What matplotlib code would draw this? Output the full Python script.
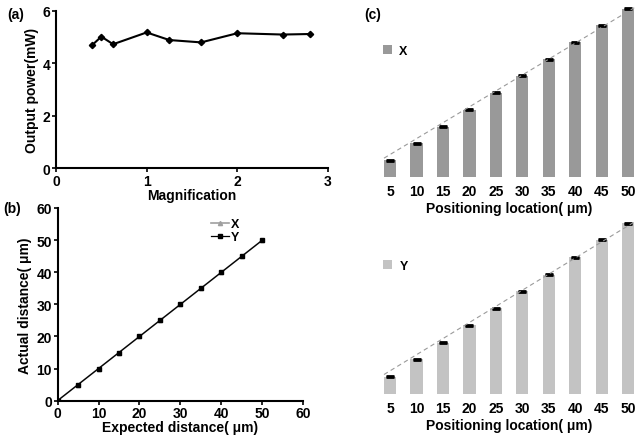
import numpy as np
import matplotlib
matplotlib.use("Agg")
import matplotlib.pyplot as plt

plt.rcParams["font.family"] = ["Liberation Sans", "DejaVu Sans"]
plt.rcParams["font.weight"] = "bold"
plt.rcParams["axes.labelweight"] = "bold"

# --------- data ---------
magnification = [0.4, 0.5, 0.63, 1.0, 1.25, 1.6, 2.0, 2.5, 2.8]
output_power = [4.70, 5.02, 4.73, 5.18, 4.89, 4.80, 5.15, 5.10, 5.12]

expected_dist = [0, 5, 10, 15, 20, 25, 30, 35, 40, 45, 50]
actual_x = [0, 5, 10, 15, 20, 25, 30, 35, 40, 45, 50]
actual_y = [0, 5, 10, 15, 20, 25, 30, 35, 40, 45, 50]

locations = ["5", "10", "15", "20", "25", "30", "35", "40", "45", "50"]
pos_x = [5.0, 10.1, 15.0, 20.0, 25.0, 30.1, 35.0, 40.1, 45.1, 50.0]
pos_y = [5.1, 10.2, 15.0, 20.1, 25.1, 30.0, 34.9, 40.0, 45.1, 50.0]
err_x = [0.15] * 10
err_y = [0.15] * 10

fig = plt.figure(figsize=(6.42, 4.39), dpi=100)

# --------- (a) output power ---------
ax_a = fig.add_axes([0.0872, 0.615, 0.4237, 0.3577])
ax_a.plot(magnification, output_power, color="black", lw=1.5,
          marker="D", ms=3.2, mfc="black")
ax_a.set_xlim(0, 3)
ax_a.set_ylim(0, 6)
ax_a.set_xticks([0, 1, 2, 3])
ax_a.set_yticks([0, 2, 4, 6])
ax_a.set_xlabel("Magnification", fontsize=10, labelpad=0)
ax_a.set_ylabel("Output power(mW)", fontsize=10, labelpad=3)

# --------- (b) actual vs expected ---------
ax_b = fig.add_axes([0.0896, 0.085, 0.383, 0.439])
ax_b.plot(expected_dist, actual_x, color="#a0a0a0", lw=1.2,
          marker="^", ms=3, label="X")
ax_b.plot(expected_dist, actual_y, color="black", lw=0.9,
          marker="s", ms=2.8, label="Y")
ax_b.set_xlim(0, 60)
ax_b.set_ylim(0, 60)
ax_b.set_xticks(range(0, 61, 10))
ax_b.set_yticks(range(0, 61, 10))
ax_b.set_xlabel("Expected distance( μm)", fontsize=10, labelpad=0)
ax_b.set_ylabel("Actual distance( μm)", fontsize=10, labelpad=3)
ax_b.legend(loc="upper left", bbox_to_anchor=(0.6, 0.98), frameon=False,
            fontsize=9, handlelength=1.4, handletextpad=0.2,
            labelspacing=0.1, borderpad=0)

for ax in (ax_a, ax_b):
    for side in ("top", "right"):
        ax.spines[side].set_visible(False)
    ax.spines["left"].set_linewidth(1.5)
    ax.spines["bottom"].set_linewidth(1.5)
    ax.tick_params(direction="out", length=3, width=1.2, labelsize=10, pad=1)
    for lab in ax.get_xticklabels() + ax.get_yticklabels():
        lab.set_fontweight("bold")

# --------- (c) positioning bars ---------
def bar_panel(rect, values, errors, color, name):
    ax = fig.add_axes(rect)
    idx = np.arange(len(values))
    w = 0.46
    ax.bar(idx, values, width=w, color=color, label=name)
    ax.errorbar(idx, values, yerr=errors, fmt="none", ecolor="black",
                elinewidth=0.5, capsize=3.2, capthick=2)
    ax.plot([idx[0] - w / 2, idx[-1] + w / 2],
            [values[0] + 0.6, values[-1] + 0.3],
            color="#9a9a9a", lw=0.8, ls=(0, (4, 3)))
    ax.set_xlim(-0.5, len(values) - 0.5)
    ax.set_ylim(0, 52)
    ax.set_xticks(idx)
    ax.set_xticklabels(locations, fontsize=10, fontweight="bold")
    ax.set_yticks([])
    ax.tick_params(axis="x", length=0, pad=5)
    for s in ax.spines.values():
        s.set_visible(False)
    ax.set_xlabel("Positioning location( μm)", fontsize=10, labelpad=2)
    ax.legend(loc="center left", bbox_to_anchor=(0.0, 0.72), frameon=False,
              fontsize=9, handlelength=0.7, handleheight=0.7,
              handletextpad=0.6, borderpad=0)
    return ax

ax_c1 = bar_panel([0.587, 0.5945, 0.412, 0.3986], pos_x, err_x, "#999999", "X")
ax_c2 = bar_panel([0.587, 0.1002, 0.412, 0.405], pos_y, err_y, "#c3c3c3", "Y")

# --------- panel labels ---------
fig.text(0.012, 0.965, "(a)", fontsize=10, fontweight="bold", va="center")
fig.text(0.005, 0.523, "(b)", fontsize=10, fontweight="bold", va="center")
fig.text(0.568, 0.965, "(c)", fontsize=10, fontweight="bold", va="center")

fig.savefig("out.png", dpi=100)
